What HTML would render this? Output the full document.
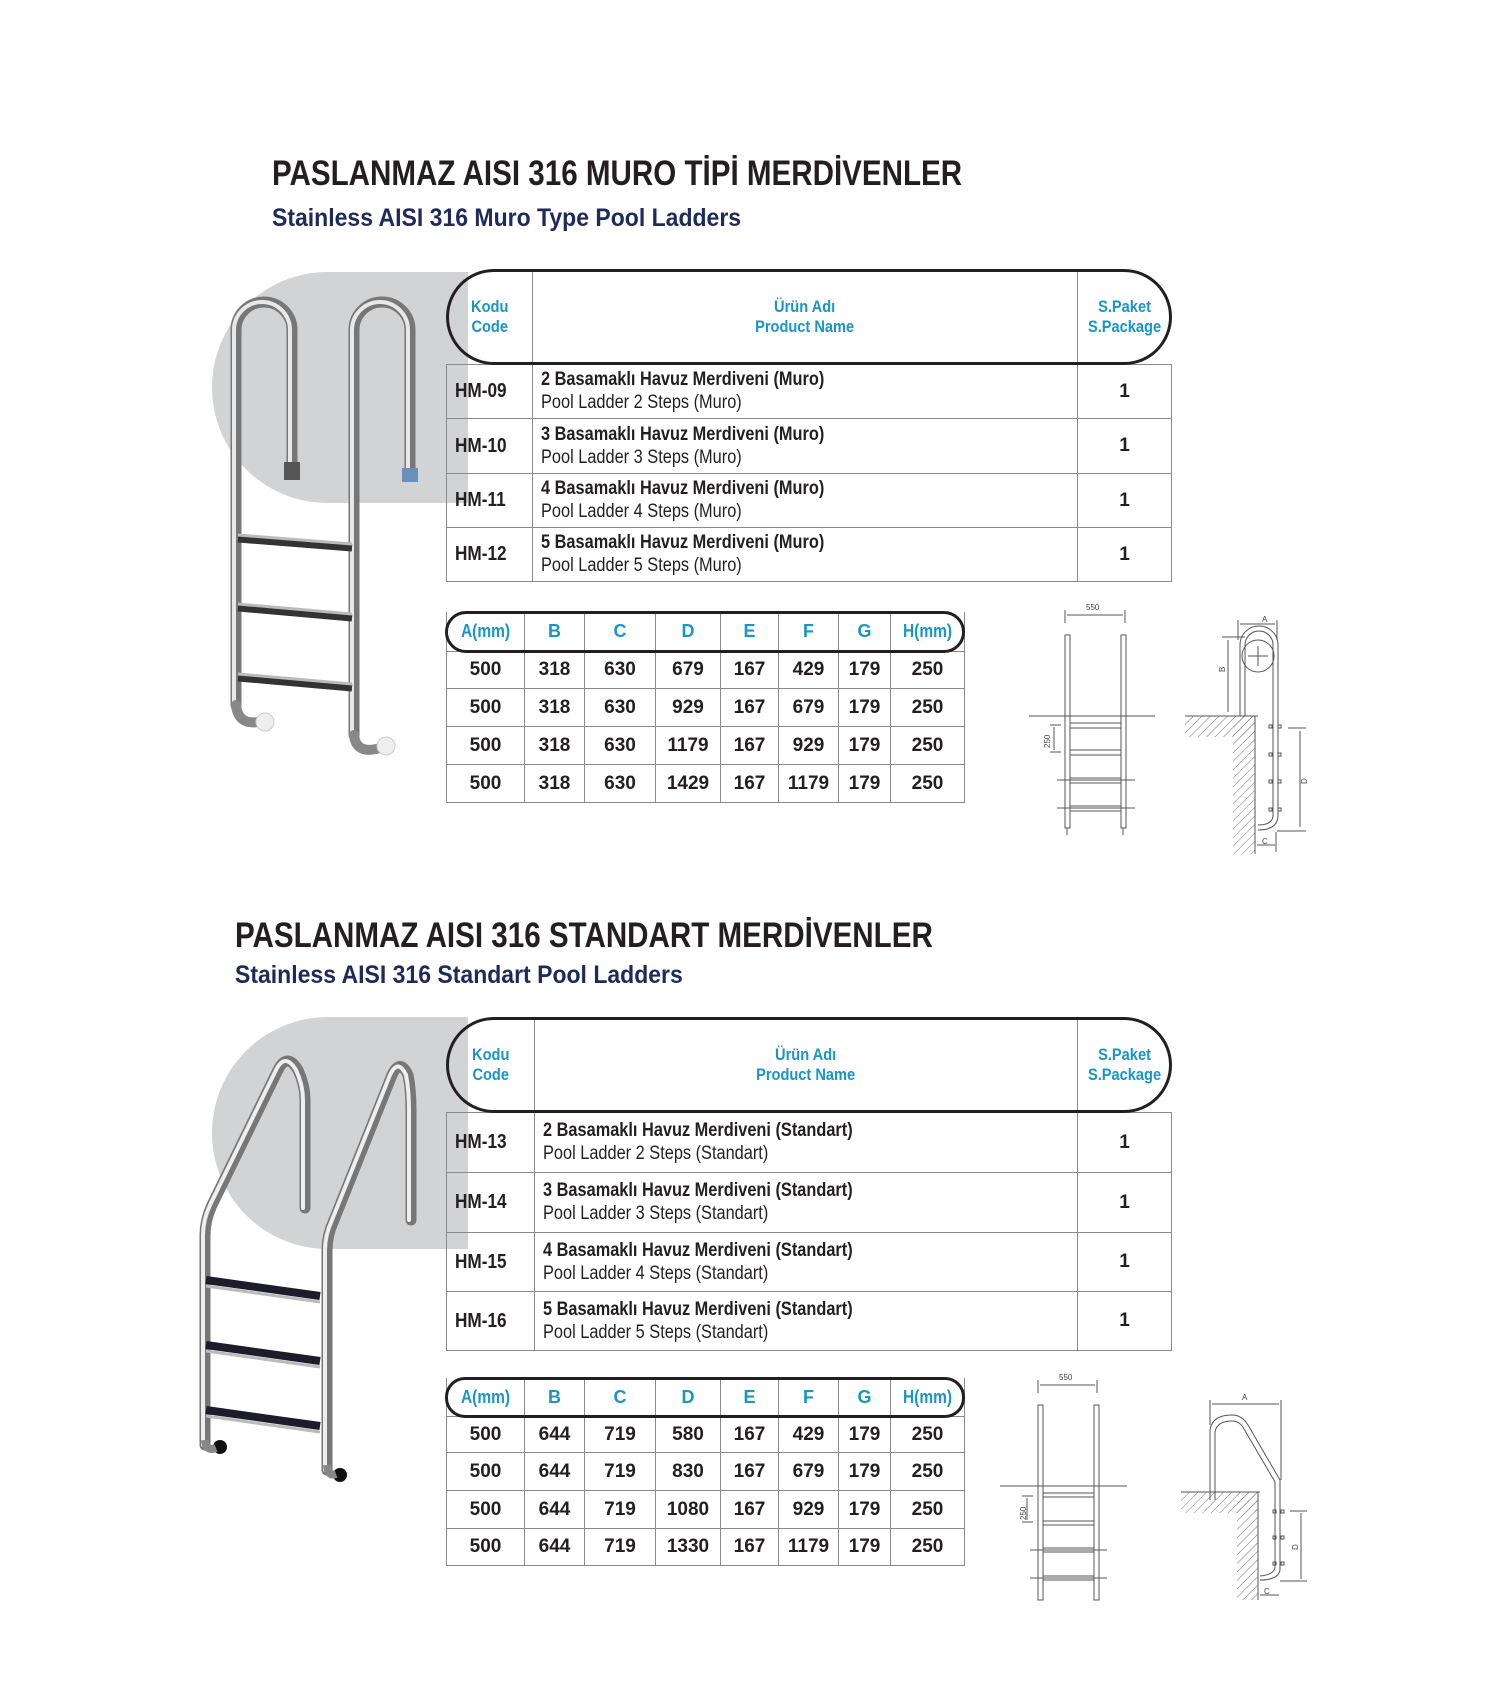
<!DOCTYPE html>
<html><head><meta charset="utf-8"><style>
*{margin:0;padding:0;box-sizing:border-box}
body{width:1508px;height:1700px;background:#fff;position:relative;overflow:hidden;font-family:"Liberation Sans",sans-serif;color:#231f20}
.a{position:absolute}
.t1{font-weight:bold;font-size:35px;color:#231f20;transform:scaleX(.845);transform-origin:left;white-space:nowrap}
.t2{font-weight:bold;font-size:25px;color:#1f2a5c;transform:scaleX(.92);transform-origin:left;white-space:nowrap}
table{border-collapse:collapse;position:absolute;table-layout:fixed}
td{border:1px solid #8a8a8a;vertical-align:middle;line-height:1;overflow:visible;white-space:nowrap}
.hd td{border-top:none;color:#1b95c4;font-weight:bold;font-size:17px;text-align:center;line-height:20px}
.code{font-weight:bold;font-size:20px;padding-left:8px}
.nm{padding-left:8px;font-size:19px;line-height:23px}
.pk{text-align:center;font-weight:bold;font-size:19px}
.sp td{text-align:center;font-weight:bold;font-size:19px}
.sp .hd td{font-size:18px}
.l{display:inline-block;transform:scaleX(.86);transform-origin:left}
.c{display:inline-block;transform:scaleX(.86);transform-origin:center}
.pill{position:absolute;border:3px solid #231f20;background:transparent}
.gray{position:absolute;background:#d2d3d5}
</style></head><body>

<div class="a t1" style="left:272px;top:154px">PASLANMAZ AISI 316 MURO TİPİ MERDİVENLER</div>
<div class="a t2" style="left:272px;top:204px">Stainless AISI 316 Muro Type Pool Ladders</div>

<div class="gray" style="left:212px;top:272px;width:256px;height:231px;border-radius:116px 0 0 116px"></div>

<table style="left:446px;top:270px;width:725px">
<colgroup><col style="width:86px"><col style="width:545px"><col style="width:94px"></colgroup>
<tr class="hd" style="height:94px"><td style="border-left:none"><span class="c">Kodu<br>Code</span></td><td><span class="c">Ürün Adı<br>Product Name</span></td><td style="border-right:none"><span class="c">S.Paket<br>S.Package</span></td></tr>
<tr style="height:54px"><td class="code"><span class="l">HM-09</span></td><td class="nm"><span class="l"><b>2 Basamaklı Havuz Merdiveni (Muro)</b><br>Pool Ladder 2 Steps (Muro)</span></td><td class="pk">1</td></tr>
<tr style="height:55px"><td class="code"><span class="l">HM-10</span></td><td class="nm"><span class="l"><b>3 Basamaklı Havuz Merdiveni (Muro)</b><br>Pool Ladder 3 Steps (Muro)</span></td><td class="pk">1</td></tr>
<tr style="height:54px"><td class="code"><span class="l">HM-11</span></td><td class="nm"><span class="l"><b>4 Basamaklı Havuz Merdiveni (Muro)</b><br>Pool Ladder 4 Steps (Muro)</span></td><td class="pk">1</td></tr>
<tr style="height:54px"><td class="code"><span class="l">HM-12</span></td><td class="nm"><span class="l"><b>5 Basamaklı Havuz Merdiveni (Muro)</b><br>Pool Ladder 5 Steps (Muro)</span></td><td class="pk">1</td></tr>
</table>
<div class="pill" style="left:446px;top:269px;width:726px;height:96px;border-radius:48px"></div>

<table class="sp" style="left:446px;top:612px;width:518px">
<colgroup><col style="width:78px"><col style="width:60px"><col style="width:71px"><col style="width:65px"><col style="width:58px"><col style="width:60px"><col style="width:52px"><col style="width:74px"></colgroup>
<tr class="hd" style="height:39px"><td><span class="c">A(mm)</span></td><td>B</td><td>C</td><td>D</td><td>E</td><td>F</td><td>G</td><td><span class="c">H(mm)</span></td></tr>
<tr style="height:37px"><td>500</td><td>318</td><td>630</td><td>679</td><td>167</td><td>429</td><td>179</td><td>250</td></tr>
<tr style="height:38px"><td>500</td><td>318</td><td>630</td><td>929</td><td>167</td><td>679</td><td>179</td><td>250</td></tr>
<tr style="height:38px"><td>500</td><td>318</td><td>630</td><td>1179</td><td>167</td><td>929</td><td>179</td><td>250</td></tr>
<tr style="height:38px"><td>500</td><td>318</td><td>630</td><td>1429</td><td>167</td><td>1179</td><td>179</td><td>250</td></tr>
</table>
<div class="pill" style="left:445px;top:611px;width:520px;height:42px;border-radius:21px"></div>

<div class="a t1" style="left:235px;top:916px">PASLANMAZ AISI 316 STANDART MERDİVENLER</div>
<div class="a t2" style="left:235px;top:961px">Stainless AISI 316 Standart Pool Ladders</div>

<div class="gray" style="left:212px;top:1017px;width:256px;height:232px;border-radius:116px 0 0 116px"></div>

<table style="left:446px;top:1018px;width:725px">
<colgroup><col style="width:88px"><col style="width:543px"><col style="width:94px"></colgroup>
<tr class="hd" style="height:94px"><td style="border-left:none"><span class="c">Kodu<br>Code</span></td><td><span class="c">Ürün Adı<br>Product Name</span></td><td style="border-right:none"><span class="c">S.Paket<br>S.Package</span></td></tr>
<tr style="height:60px"><td class="code"><span class="l">HM-13</span></td><td class="nm"><span class="l"><b>2 Basamaklı Havuz Merdiveni (Standart)</b><br>Pool Ladder 2 Steps (Standart)</span></td><td class="pk">1</td></tr>
<tr style="height:60px"><td class="code"><span class="l">HM-14</span></td><td class="nm"><span class="l"><b>3 Basamaklı Havuz Merdiveni (Standart)</b><br>Pool Ladder 3 Steps (Standart)</span></td><td class="pk">1</td></tr>
<tr style="height:59px"><td class="code"><span class="l">HM-15</span></td><td class="nm"><span class="l"><b>4 Basamaklı Havuz Merdiveni (Standart)</b><br>Pool Ladder 4 Steps (Standart)</span></td><td class="pk">1</td></tr>
<tr style="height:59px"><td class="code"><span class="l">HM-16</span></td><td class="nm"><span class="l"><b>5 Basamaklı Havuz Merdiveni (Standart)</b><br>Pool Ladder 5 Steps (Standart)</span></td><td class="pk">1</td></tr>
</table>
<div class="pill" style="left:446px;top:1017px;width:726px;height:96px;border-radius:48px"></div>

<table class="sp" style="left:446px;top:1378px;width:518px">
<colgroup><col style="width:78px"><col style="width:60px"><col style="width:71px"><col style="width:65px"><col style="width:58px"><col style="width:60px"><col style="width:52px"><col style="width:74px"></colgroup>
<tr class="hd" style="height:38px"><td><span class="c">A(mm)</span></td><td>B</td><td>C</td><td>D</td><td>E</td><td>F</td><td>G</td><td><span class="c">H(mm)</span></td></tr>
<tr style="height:36px"><td>500</td><td>644</td><td>719</td><td>580</td><td>167</td><td>429</td><td>179</td><td>250</td></tr>
<tr style="height:38px"><td>500</td><td>644</td><td>719</td><td>830</td><td>167</td><td>679</td><td>179</td><td>250</td></tr>
<tr style="height:38px"><td>500</td><td>644</td><td>719</td><td>1080</td><td>167</td><td>929</td><td>179</td><td>250</td></tr>
<tr style="height:37px"><td>500</td><td>644</td><td>719</td><td>1330</td><td>167</td><td>1179</td><td>179</td><td>250</td></tr>
</table>
<div class="pill" style="left:445px;top:1377px;width:520px;height:41px;border-radius:20px"></div>

<svg class="a" style="left:0;top:0" width="1508" height="1700" viewBox="0 0 1508 1700">
<defs>
<pattern id="h" width="6" height="6" patternUnits="userSpaceOnUse" patternTransform="rotate(45)"><line x1="0" y1="0" x2="0" y2="6" stroke="#777" stroke-width="1"/></pattern>
</defs>
<g fill="none" stroke-linecap="round">
<g stroke="#777" stroke-width="11">
<path d="M236 705 V330 A28 28 0 0 1 292 330 V468"/>
<path d="M354 735 V330 A28 28 0 0 1 410 330 V468"/>
</g>
<g stroke="#e8e8e8" stroke-width="4">
<path d="M234 705 V330 A28 28 0 0 1 290 330 V468"/>
<path d="M352 735 V330 A28 28 0 0 1 408 330 V468"/>
</g>
<path d="M236 705 Q238 725 258 722" stroke="#888" stroke-width="10"/>
<path d="M354 735 Q356 755 380 748" stroke="#888" stroke-width="10"/>
</g>
<circle cx="265" cy="722" r="9" fill="#eee" stroke="#ccc"/>
<circle cx="386" cy="746" r="9" fill="#eee" stroke="#ccc"/>
<rect x="284" y="462" width="16" height="18" fill="#555"/><rect x="402" y="468" width="16" height="14" fill="#6a8fb8"/>
<g stroke="#333" stroke-width="7"><line x1="238" y1="539" x2="352" y2="548"/><line x1="238" y1="608" x2="352" y2="618"/><line x1="238" y1="678" x2="352" y2="688"/></g>
<g stroke="#bbb" stroke-width="3"><line x1="238" y1="535" x2="352" y2="544"/><line x1="238" y1="604" x2="352" y2="614"/><line x1="238" y1="674" x2="352" y2="684"/></g>

<g fill="none" stroke-linecap="round">
<g stroke="#777" stroke-width="11">
<path d="M205 1445 V1235 Q205 1220 212 1205 L278 1070 Q287 1052 298 1070 Q305 1085 305 1100 V1208"/>
<path d="M327 1470 V1250 Q327 1235 334 1220 L392 1075 Q400 1058 408 1075 Q411 1090 411 1110 V1220"/>
</g>
<g stroke="#eee" stroke-width="4">
<path d="M203 1445 V1235 Q203 1220 210 1205 L276 1070 Q285 1052 296 1070 Q303 1085 303 1100 V1208"/>
<path d="M325 1470 V1250 Q325 1235 332 1220 L390 1075 Q398 1058 406 1075 Q409 1090 409 1110 V1220"/>
</g>
</g>
<circle cx="220" cy="1447" r="7" fill="#111"/><circle cx="340" cy="1475" r="7" fill="#111"/>
<path d="M205 1440 Q206 1452 216 1448 M327 1465 Q328 1477 336 1474" stroke="#888" stroke-width="8" fill="none"/>
<g stroke="#1c1c2a" stroke-width="8"><line x1="206" y1="1280" x2="320" y2="1296"/><line x1="206" y1="1345" x2="320" y2="1361"/><line x1="206" y1="1410" x2="320" y2="1426"/></g>
<g stroke="#bbb" stroke-width="3"><line x1="206" y1="1286" x2="320" y2="1302"/><line x1="206" y1="1351" x2="320" y2="1367"/><line x1="206" y1="1416" x2="320" y2="1432"/></g>

<g stroke="#555" stroke-width="1" fill="none">
<rect x="1065" y="635" width="5" height="193"/><rect x="1121" y="635" width="5" height="193"/>
<line x1="1067" y1="828" x2="1067" y2="835"/><line x1="1123" y1="828" x2="1123" y2="835"/>
<line x1="1029" y1="716" x2="1155" y2="716"/>
<rect x="1070" y="723" width="51" height="5"/><rect x="1070" y="750" width="51" height="5"/><rect x="1070" y="778" width="51" height="5"/><rect x="1070" y="806" width="51" height="5"/>
<line x1="1057" y1="780" x2="1135" y2="780"/><line x1="1057" y1="808" x2="1135" y2="808"/>
<line x1="1065" y1="610" x2="1065" y2="623"/><line x1="1125" y1="610" x2="1125" y2="623"/>
<line x1="1067" y1="615" x2="1123" y2="615"/>
<line x1="1050" y1="725" x2="1061" y2="725"/><line x1="1050" y1="752" x2="1061" y2="752"/><line x1="1054" y1="727" x2="1054" y2="750"/>
<rect x="1185" y="716" width="70" height="21" fill="url(#h)" stroke="none"/>
<rect x="1233" y="716" width="22" height="138" fill="url(#h)" stroke="none"/>
<path d="M1185 716 H1258 M1255 716 V854"/>
<path d="M1240 716 V645 A19 19 0 0 1 1278 645 V815 Q1278 830 1258 830"/>
<path d="M1245 716 V645 A14 14 0 0 1 1273 645 V815 Q1273 825 1258 825"/>
<circle cx="1258" cy="656" r="16"/><line x1="1248" y1="656" x2="1268" y2="656"/><line x1="1258" y1="646" x2="1258" y2="666"/>
<rect x="1269" y="725" width="3" height="3"/><rect x="1278" y="725" width="3" height="3"/>
<rect x="1269" y="753" width="3" height="3"/><rect x="1278" y="753" width="3" height="3"/>
<rect x="1269" y="780" width="3" height="3"/><rect x="1278" y="780" width="3" height="3"/>
<rect x="1269" y="808" width="3" height="3"/><rect x="1278" y="808" width="3" height="3"/>
<line x1="1238" y1="620" x2="1238" y2="640"/><line x1="1277" y1="620" x2="1277" y2="640"/><line x1="1240" y1="624" x2="1275" y2="624"/>
<line x1="1222" y1="637" x2="1245" y2="637"/><line x1="1228" y1="640" x2="1228" y2="712"/>
<line x1="1288" y1="728" x2="1306" y2="728"/><line x1="1277" y1="831" x2="1306" y2="831"/><line x1="1300" y1="731" x2="1300" y2="827"/>
<line x1="1257" y1="845" x2="1275" y2="845"/><line x1="1276" y1="832" x2="1276" y2="852"/>
</g>
<g font-family="Liberation Sans,sans-serif" font-size="8" fill="#444">
<text x="1086" y="610">550</text>
<text x="1262" y="622">A</text>
<text x="1233" y="680" transform="rotate(-90 1225 680)">B</text>
<text x="1050" y="748" transform="rotate(-90 1050 748)">250</text>
<text x="1307" y="784" transform="rotate(-90 1307 784)">D</text>
<text x="1262" y="844">C</text>
</g>

<g stroke="#555" stroke-width="1" fill="none">
<rect x="1038" y="1405" width="5" height="195"/><rect x="1094" y="1405" width="5" height="195"/>
<line x1="1000" y1="1486" x2="1127" y2="1486"/>
<rect x="1043" y="1493" width="51" height="4"/><rect x="1043" y="1521" width="51" height="4"/><rect x="1043" y="1548" width="51" height="4"/><rect x="1043" y="1576" width="51" height="4"/>
<line x1="1030" y1="1550" x2="1107" y2="1550"/><line x1="1030" y1="1578" x2="1107" y2="1578"/>
<line x1="1038" y1="1380" x2="1038" y2="1393"/><line x1="1097" y1="1380" x2="1097" y2="1393"/><line x1="1040" y1="1385" x2="1095" y2="1385"/>
<line x1="1022" y1="1496" x2="1033" y2="1496"/><line x1="1022" y1="1522" x2="1033" y2="1522"/><line x1="1027" y1="1498" x2="1027" y2="1520"/>
<rect x="1181" y="1492" width="77" height="21" fill="url(#h)" stroke="none"/>
<rect x="1237" y="1492" width="21" height="108" fill="url(#h)" stroke="none"/>
<path d="M1181 1492 H1260 M1258 1492 V1600"/>
<path d="M1210 1500 V1430 Q1212 1415 1232 1415 Q1242 1415 1248 1425 L1280 1480 V1570 Q1278 1580 1260 1580"/>
<path d="M1215 1500 V1432 Q1217 1421 1232 1421 Q1240 1421 1244 1429 L1275 1482 V1568 Q1273 1575 1260 1576"/>
<rect x="1273" y="1510" width="3" height="3"/><rect x="1281" y="1510" width="3" height="3"/>
<rect x="1273" y="1536" width="3" height="3"/><rect x="1281" y="1536" width="3" height="3"/>
<rect x="1273" y="1562" width="3" height="3"/><rect x="1281" y="1562" width="3" height="3"/>
<line x1="1210" y1="1400" x2="1210" y2="1425"/><line x1="1281" y1="1400" x2="1281" y2="1480"/><line x1="1212" y1="1404" x2="1279" y2="1404"/>
<line x1="1290" y1="1511" x2="1307" y2="1511"/><line x1="1280" y1="1581" x2="1307" y2="1581"/><line x1="1301" y1="1513" x2="1301" y2="1579"/>
<line x1="1260" y1="1595" x2="1279" y2="1595"/>
</g>
<g font-family="Liberation Sans,sans-serif" font-size="8" fill="#444">
<text x="1059" y="1380">550</text>
<text x="1242" y="1400">A</text>
<text x="1026" y="1520" transform="rotate(-90 1026 1520)">250</text>
<text x="1298" y="1550" transform="rotate(-90 1298 1550)">D</text>
<text x="1264" y="1594">C</text>
</g>
</svg>
</body></html>
